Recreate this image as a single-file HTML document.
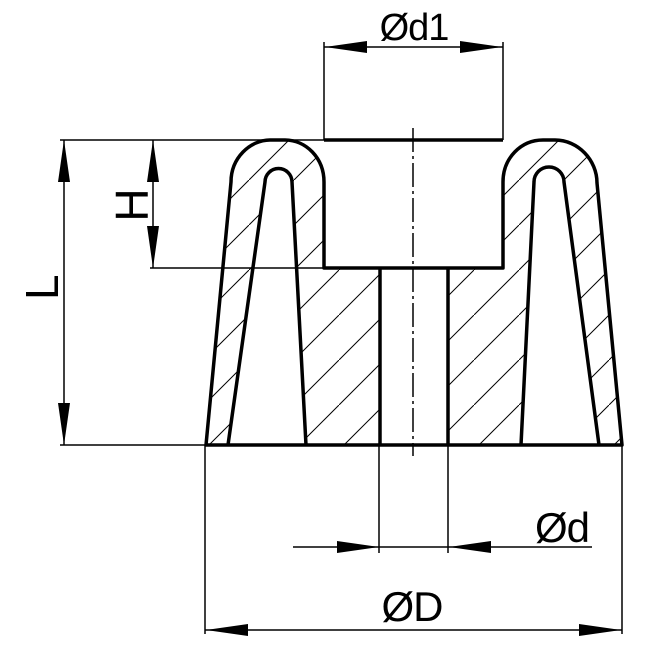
<!DOCTYPE html>
<html><head><meta charset="utf-8"><style>
html,body{margin:0;padding:0;background:#fff;}
svg{display:block;}
text{font-family:"Liberation Sans",sans-serif;fill:#000;}
</style></head><body>
<svg width="648" height="653" viewBox="0 0 648 653" xmlns="http://www.w3.org/2000/svg">
<defs>
<pattern id="h" patternUnits="userSpaceOnUse" width="45" height="45" patternTransform="translate(24,0)">
<line x1="-5" y1="50" x2="50" y2="-5" stroke="#000" stroke-width="1"/>
</pattern>
</defs>
<path fill="url(#h)" fill-rule="evenodd" d="M206,445 L231,182 C231,158 250,140 270,140 L285,140 C306,140 324,158 324,182 L324,268 L380,268 L380,445 Z M228,445 L265,182 A13.5,13.5 0 0 1 292,182 L306,445 Z"/>
<path fill="url(#h)" fill-rule="evenodd" d="M448,445 L448,268 L503,268 L503,182 C503,158 521,140 543,140 L555,140 C578,140 597,160 597,183 L622,445 Z M521,445 L534,182 A15,15 0 0 1 564,182 L599,445 Z"/>
<g fill="none" stroke="#000" stroke-width="3.5" stroke-linejoin="round">
<path d="M206,445 L231,182 C231,158 250,140 270,140 L285,140 C306,140 324,158 324,182 L324,268 L503,268 L503,182 C503,158 521,140 543,140 L555,140 C578,140 597,160 597,183 L622,445 Z"/>
<path d="M228,445 L265,182 A13.5,13.5 0 0 1 292,182 L306,445"/>
<path d="M521,445 L534,182 A15,15 0 0 1 564,182 L599,445"/>
<line x1="324" y1="140" x2="503" y2="140"/>
<line x1="380" y1="268" x2="380" y2="445"/>
<line x1="448" y1="268" x2="448" y2="445"/>
</g>
<g stroke="#000" stroke-width="1.5" fill="none">
<line x1="60" y1="140" x2="324" y2="140"/>
<line x1="60" y1="445" x2="206" y2="445"/>
<line x1="150" y1="268" x2="324" y2="268"/>
<line x1="64" y1="140" x2="64" y2="445"/>
<line x1="153" y1="140" x2="153" y2="268"/>
<line x1="324" y1="42" x2="324" y2="140"/>
<line x1="503" y1="42" x2="503" y2="140"/>
<line x1="324" y1="47" x2="503" y2="47"/>
<line x1="379" y1="445" x2="379" y2="553"/>
<line x1="448" y1="445" x2="448" y2="553"/>
<line x1="293" y1="547" x2="592" y2="547"/>
<line x1="205" y1="445" x2="205" y2="634"/>
<line x1="622" y1="445" x2="622" y2="634"/>
<line x1="205" y1="630" x2="622" y2="630"/>
<line x1="413" y1="128" x2="413" y2="456" stroke-dasharray="24,4,3,4"/>
</g>
<g fill="#000">
<polygon points="64,140 58,182 70,182"/>
<polygon points="64,445 58,403 70,403"/>
<polygon points="153,140 147,182 159,182"/>
<polygon points="153,268 147,226 159,226"/>
<polygon points="325,47 367,41 367,53"/>
<polygon points="502,47 460,41 460,53"/>
<polygon points="379,547 337,541 337,553"/>
<polygon points="449,547 491,541 491,553"/>
<polygon points="206,630 248,624 248,636"/>
<polygon points="621,630 579,624 579,636"/>
</g>
<text x="414" y="40" font-size="38" text-anchor="middle" letter-spacing="-1">Ød1</text>
<text x="562" y="542" font-size="42" text-anchor="middle" letter-spacing="-1">Ød</text>
<text x="412" y="621" font-size="42" text-anchor="middle" letter-spacing="-1">ØD</text>
<text transform="translate(58,300) rotate(-90)" font-size="46" text-anchor="start">L</text>
<text transform="translate(148,205) rotate(-90)" font-size="46" text-anchor="middle">H</text>
</svg>
</body></html>
